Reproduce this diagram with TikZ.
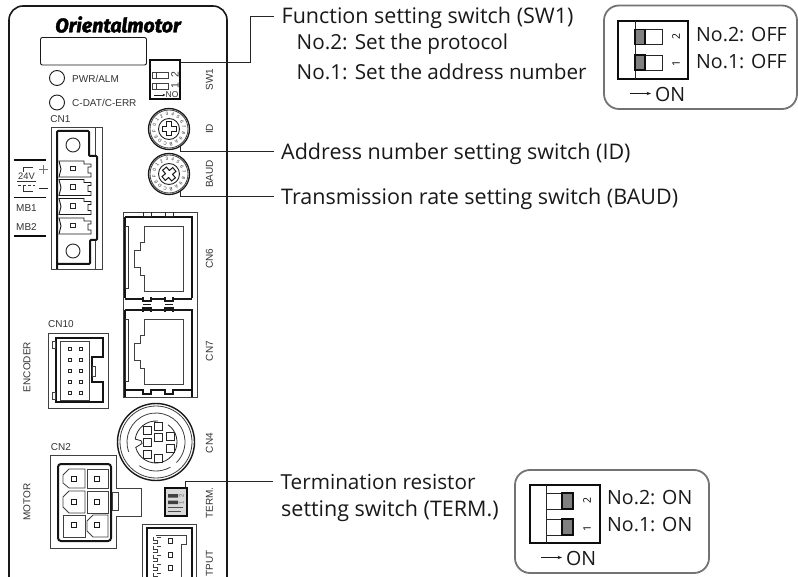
\documentclass[tikz,border=0pt]{standalone}
\usepackage{fontspec}
\usetikzlibrary{arrows.meta}
\setmainfont{Open Sans}
\newfontfamily\panelfont{Liberation Sans}
\newfontfamily\logofont[BoldItalicFeatures={FakeBold=2.2}]{Fira Sans}
\tikzset{
  x=1pt,y=-1pt,
  thin line/.style={draw=black!75,line width=.8pt},
  thick line/.style={draw=black!92,line width=2pt},
  panel line/.style={draw=black!90,line width=1.6pt},
  leader/.style={draw=black!85,line width=1pt},
  lab/.style={anchor=west,inner sep=0pt,font=\fontsize{21.5}{23}\selectfont,text=black!90},
  labn/.style={anchor=west,inner sep=0pt,font=\fontsize{20.7}{22}\selectfont,text=black!90},
  labs/.style={anchor=west,inner sep=0pt,font=\fontsize{19.6}{21}\selectfont,text=black!90},
  pan/.style={inner sep=0pt,font=\panelfont\fontsize{10}{11}\selectfont,text=black!80},
  panr/.style={pan,rotate=90},
  stat/.style={draw=black!55,line width=1.8pt,rounded corners=15pt},
  pin/.style={draw=black!85,line width=1pt},
}
\newcommand{\rotsw}[4]{% name, cx, cy, cross rotation
  \begin{scope}[shift={(#2,#3)}]
    \draw[draw=black!90,line width=1.3pt] (0,0) circle[radius=20.5];
    \draw[thin line] (0,0) circle[radius=19];
    \draw[draw=black!85,line width=.9pt] (0,0) circle[radius=10.5];
    \foreach \t [count=\i from 0] in {0,1,2,3,4,5,6,7,8,9,A,B,C,D,E,F}{
      \pgfmathsetmacro{\ang}{165-22.5*\i}
      \node[inner sep=0pt,rotate=\ang-90,font=\panelfont\fontsize{4.6}{5}\selectfont,text=black!85] at ({15*cos(\ang)},{-15*sin(\ang)}) {\t};
    }
    \draw[draw=black!90,line width=1pt,rotate=#4]
      (-2.5,-7)--(2.5,-7)--(2.5,-2.5)--(7,-2.5)--(7,2.5)--(2.5,2.5)--(2.5,7)--(-2.5,7)--(-2.5,2.5)--(-7,2.5)--(-7,-2.5)--(-2.5,-2.5)--cycle;
  \end{scope}
}
\newcommand{\rjjack}[1]{% y offset
  \begin{scope}[shift={(0,#1)}]
    \draw[thick line] (125,217)--(192,217)--(192,298);
    \draw[thick line] (125,217)--(125,298);
    \fill[white,draw=black!80,line width=.6pt] (125,226) rectangle (128,288);
    \draw[thin line,line width=.9pt] (144,226)--(183,226)--(183,291)--(144,291)--(144,275)--(140,275)--(140,267)--(134,267)--(134,250)--(140,250)--(140,242)--(144,242)--cycle;
  \end{scope}
}
\begin{document}
\begin{tikzpicture}
\useasboundingbox (0,0) rectangle (798,577);
\clip (0,0) rectangle (798,577);
\fill[white] (0,0) rectangle (798,577);
% panel
\draw[panel line,rounded corners=14pt] (9,600)--(9,6)--(227,6)--(227,600);
\node[inner sep=0pt,anchor=center,font=\logofont\bfseries\itshape\fontsize{19.6}{21}\selectfont] (logo) at (118,24.5) {Orientalmotor};
\draw[draw=black!90,line width=.9pt,rounded corners=2pt] (40.5,37.5) rectangle (146.5,65);
% LEDs
\draw[draw=black!90,line width=.9pt] (57,78) circle[radius=7.5];
\draw[draw=black!90,line width=.9pt] (57,102.5) circle[radius=7.5];
\node[pan,anchor=west] (pwr) at (72,79) {PWR/ALM};
\node[pan,anchor=west] (cdat) at (72,103) {C-DAT/C-ERR};
% SW1
\node[draw=black!95,line width=1.7pt,minimum width=30.5pt,minimum height=38.5pt,inner sep=0pt] (sw1) at (165,79.5) {};
\draw[thin line] (152,72) rectangle (168,78.5);
\draw[thin line] (152,83) rectangle (168,89);
\draw[thin line] (156,72)--(156,78.5) (156,83)--(156,89);
\node[pan,rotate=90,font=\panelfont\fontsize{10.5}{11}\selectfont] (sw1a) at (175,75) {2};
\node[pan,rotate=90,font=\panelfont\fontsize{10.5}{11}\selectfont] (sw1b) at (175,86) {1};
\coordinate (swa) at (154,95);
\node[pan,anchor=west,font=\panelfont\fontsize{8.5}{9}\selectfont] (sw1c) at (165.5,95) {NO};
\draw[draw=black!90,line width=.6pt,-{Stealth[length=3pt]}] (swa)--(sw1c.west);
\node[panr] (tsw1) at (209.5,79.5) {SW1};
% rotary
\rotsw{id}{169}{129}{0}
\node[panr] (tid) at (209.5,129) {ID};
\rotsw{baud}{169}{174}{40}
\node[panr] (tbaud) at (209.5,174) {BAUD};
% left labels
\draw[draw=black!95,line width=1.3pt] (14,160)--(46,160) (14,197.5)--(46,197.5) (14,236)--(46,236);
\node[pan,font=\panelfont\fontsize{9.4}{10}\selectfont] (t24) at (26.5,176.5) {24V};
\draw[draw=black!80,line width=.7pt] (17,181.5)--(36,181.5) (23,172)--(23,167.5)--(33,167.5) (23,186)--(23,191)--(33,191);
\draw[draw=black!80,line width=.7pt,dash pattern=on 3pt off 2pt] (18,185.5)--(35,185.5);
\draw[draw=black!55,line width=.8pt] (39,169.5)--(48,169.5) (43.5,165)--(43.5,174);
\draw[draw=black!85,line width=.9pt] (39,188.5)--(48,188.5);
\node[pan] (mb1) at (26.5,208) {MB1};
\node[pan] (mb2) at (26.5,227) {MB2};
% CN1
\node[pan] (cn1) at (60.5,119.5) {CN1};
\draw[thin line] (51,127) rectangle (102,269);
\draw[thin line] (95,127)--(95,156) (95,240)--(95,269);
\draw[thick line,rounded corners=1pt] (57,269)--(57,131)--(89,131)--(89,156)--(97,156)--(97,240)--(90,240)--(90,264)--(57,264);
\draw[draw=black!85,line width=.9pt] (73,145) circle[radius=7];
\draw[draw=black!85,line width=.9pt] (73,251) circle[radius=7];
\foreach \yy in {161,179.5,198.5,218}{
  \draw[draw=black!90,line width=.9pt,fill=white] (59,\yy)--(84,\yy)--(84,\yy+3)--(91,\yy+3)--(91,\yy+6)--(88,\yy+6)--(88,\yy+12)--(91,\yy+12)--(91,\yy+16)--(59,\yy+16)--(61,\yy+8)--cycle;
  \draw[pin] (70.5,\yy+5.5) rectangle (75,\yy+10);
}
% CN6, CN7
\node[panr] (cn6) at (209.5,258.5) {CN6};
\node[panr] (cn7) at (209.5,351) {CN7};
\node[panr] (cn4) at (209.5,443) {CN4};
\node[panr] (term) at (209.5,503) {TERM.};
\node[panr] (tenc) at (27,367) {ENCODER};
\node[panr] (tmotor) at (27,502) {MOTOR};
\draw[thin line] (123,212)--(197,212)--(197,397.5)--(123,397.5)--cycle;
\rjjack{0}
\rjjack{93}
\fill[white] (124,300) rectangle (192,309);
\draw[draw=black!90,line width=1.6pt] (125,299)--(143,299) (151,299)--(165,299) (173,299)--(192,299) (125,310)--(143,310) (151,310)--(165,310) (173,310)--(192,310);
\draw[draw=black!90,line width=1.6pt] (143,297)--(143,301)--(151,301)--(151,297) (165,297)--(165,301)--(173,301)--(173,297)
 (143,312)--(143,308)--(151,308)--(151,312) (165,312)--(165,308)--(173,308)--(173,312) (143,304.5)--(151,304.5) (165,304.5)--(173,304.5);
\draw[thick line] (125,397)--(125,390)--(143,390)--(143,394)--(151,394)--(151,390)--(165,390)--(165,394)--(173,394)--(173,390)--(192,390)--(192,397);
\draw[draw=black!85,line width=.9pt] (143,212)--(143,216)--(151,216)--(151,212) (165,212)--(165,216)--(173,216)--(173,212);
% CN10
\node[pan] (cn10) at (61,324) {CN10};
\draw[thin line] (48,333) rectangle (108,408);
\draw[thick line] (56,338)--(103,338)--(103,357)--(92,357)--(92,382)--(103,382)--(103,402)--(56,402)--cycle;
\draw[thin line] (60,341) rectangle (89,400);
\draw[thin line] (52,341) rectangle (55,348);
\draw[thin line] (52,392) rectangle (55,399);
\draw[thin line] (92,366) rectangle (95,376);
\foreach \yy in {349,360,371,382,392.5}{
  \draw[pin] (68,\yy-1.5) rectangle (71,\yy+1.5);
  \draw[pin] (79,\yy-1.5) rectangle (82,\yy+1.5);
}
% CN4
\draw[draw=black!90,line width=1.4pt] (156,442) circle[radius=38.5];
\draw[thin line] (156,442) circle[radius=36];
\begin{scope}[shift={(156,442)},y=1pt]
  \draw[thin line] (200:29) arc[start angle=200,end angle=-45,radius=29];
  \draw[thin line] (235:29) arc[start angle=235,end angle=300,radius=29];
  \draw[draw=black!85,line width=.8pt] (172:21)--(175:15)--(186:14)--(195:21) arc[start angle=195,end angle=415,radius=21];
  \draw[draw=black!85,line width=.8pt] (172:21) arc[start angle=172,end angle=85,radius=21];
\end{scope}
\foreach \px/\py in {158.5/426,147/430,158.5/437.5,170/436,147/442,170/448,147/454,158.5/458}{
  \draw[draw=black!85,fill=white,line width=.9pt] (\px-4,\py-4) rectangle (\px+4,\py+4);
}
% CN2
\node[pan] (cn2) at (61,447) {CN2};
\draw[thin line] (50,455)--(116,455)--(116,488)--(141,488)--(141,516)--(116,516)--(116,548)--(50,548)--cycle;
\draw[thick line,rounded corners=3pt] (58,464) rectangle (111,541);
\draw[thin line] (112,492) rectangle (118,510);
\draw[thin line] (63,475)--(69,469)--(85,469)--(85,488)--(69,488)--(63,483)--cycle;
\draw[thin line] (87,469) rectangle (108,488);
\draw[thin line] (63,497)--(69,491)--(85,491)--(85,513)--(69,513)--(63,507)--cycle;
\draw[thin line] (87,491) rectangle (108,513);
\draw[thin line] (63,515) rectangle (85,537);
\draw[thin line] (93,515)--(108,515)--(108,537)--(93,537)--(87,531)--(87,521)--cycle;
\foreach \px/\py in {74/479,97/479,74/502,97/502,74/525,97/525}{
  \draw[draw=black!90,line width=1pt] (\px-2.5,\py-2.5) rectangle (\px+2.5,\py+2.5);
}
% TERM switch
\node[draw=black!95,line width=1.7pt,minimum width=21.5pt,minimum height=28pt,inner sep=0pt,fill=black!15] (tsw) at (176,502) {};
\fill[black!75] (168,494) rectangle (178,497.5) (168,500.5) rectangle (178,504);
\draw[black!70,line width=.5pt] (168,507)--(183,507) (168,511.5)--(181,511.5);
\node[inner sep=0pt,rotate=90,font=\panelfont\fontsize{6}{6}\selectfont,text=black!60] (tsd2) at (181.5,496) {2};
\node[inner sep=0pt,rotate=90,font=\panelfont\fontsize{6}{6}\selectfont,text=black!60] (tsd1) at (181.5,503) {1};
% output connector
\node[panr,anchor=east] (tout) at (209.5,550) {TPUT};
\draw[thin line] (142,578)--(142,524)--(196,524)--(196,578);
\draw[thick line] (147,578)--(147,528)--(192,528)--(192,578);
\draw[thin line] (156,535)--(186,535)--(186,544)--(181,544)--(181,578);
\foreach \yy in {541,555,568}{\draw[pin] (168,\yy-2.2) rectangle (172.4,\yy+2.2);}
\foreach \yy in {537,546,555,564,573}{\draw[thin line] (153,\yy)--(153,\yy+3)--(157,\yy+3)--(157,\yy+6)--(153,\yy+6);\draw[thin line] (157,\yy)--(161,\yy);}
% labels
\node[lab] (l1) at (281.5,18) {Function setting switch (SW1)};
\node[labn] (l2) at (296.5,44.5) {No.2: Set the protocol};
\node[labn] (l3) at (296.5,71.5) {No.1: Set the address number};
\node[lab] (l4) at (281,153.5) {Address number setting switch (ID)};
\node[lab] (l5) at (281,199) {Transmission rate setting switch (BAUD)};
\node[labn] (l6) at (280.5,482) {Termination resistor};
\node[lab] (l7) at (281,510.5) {setting switch (TERM.)};
% leaders
\coordinate (swp) at (180,63);
\coordinate (idp) at (180,146);
\coordinate (bdp) at (180,191);
\coordinate (e1) at (274,17);
\coordinate (e4) at (274,151.5);
\coordinate (e5) at (274,196.5);
\coordinate (e6) at (273,481);
\draw[leader] (swp)--(250,63)--(250,17)--(e1);
\draw[leader] (idp)--(180,151.5)--(e4);
\draw[leader] (bdp)--(180,196.5)--(e5);
\draw[leader] (185,489)--(185,481)--(e6);
% status box 1
\draw[stat] (604,5.5) rectangle (797,109);
\draw[draw=black!95,line width=1.5pt] (618,21) rectangle (688,79);
\draw[draw=black!85,line width=.7pt] (635,21)--(635,79);
\foreach \yy in {29.5,55}{
  \draw[draw=black!85,line width=.7pt,fill=white] (635,\yy) rectangle (662,\yy+15);
  \draw[draw=black!95,line width=1.4pt,fill=black!50] (635,\yy) rectangle (645,\yy+15);
}
\node[inner sep=0pt,rotate=90,font=\fontsize{10.5}{11}\selectfont] (a2) at (676,36.5) {2};
\node[inner sep=0pt,rotate=90,font=\fontsize{10.5}{11}\selectfont] (a1) at (676,64) {1};
\node[labs] (a3) at (696,34.5) {No.2: OFF};
\node[labs] (a4) at (696,61.5) {No.1: OFF};
\coordinate (a5) at (630,93.5);
\node[labs] (a6) at (655,94) {ON};
\draw[draw=black!90,line width=.8pt,-{Stealth[length=4.5pt]}] (a5)--(651,93.5);
% status box 2
\draw[stat] (515,470) rectangle (709,573);
\draw[draw=black!95,line width=1.5pt] (530,485) rectangle (600,543);
\draw[draw=black!85,line width=.7pt] (546,485)--(546,543);
\foreach \yy in {493,519}{
  \draw[draw=black!85,line width=.7pt,fill=white] (546,\yy) rectangle (573,\yy+16);
  \draw[draw=black!95,line width=1.4pt,fill=black!50] (562,\yy) rectangle (573,\yy+16);
}
\node[inner sep=0pt,rotate=90,font=\fontsize{10.5}{11}\selectfont] (b2) at (587,500.5) {2};
\node[inner sep=0pt,rotate=90,font=\fontsize{10.5}{11}\selectfont] (b1) at (587,528) {1};
\node[labs] (b3) at (607,498) {No.2: ON};
\node[labs] (b4) at (607,524.5) {No.1: ON};
\coordinate (b5) at (541,557.5);
\node[labs] (b6) at (566,558) {ON};
\draw[draw=black!90,line width=.8pt,-{Stealth[length=4.5pt]}] (b5)--(562,557.5);
\end{tikzpicture}
\end{document}
